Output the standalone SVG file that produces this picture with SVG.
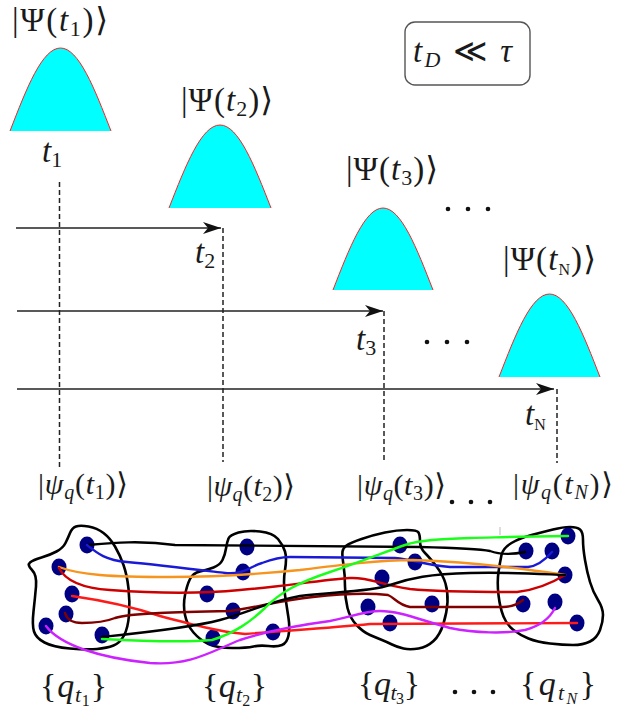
<svg xmlns="http://www.w3.org/2000/svg" width="618" height="715" viewBox="0 0 618 715">
<defs>
<style>
.m{font-family:"Liberation Serif","DejaVu Serif","DejaVu Sans",serif;font-size:33px;fill:#1a1a1a}
.q{font-family:"Liberation Serif","DejaVu Serif","DejaVu Sans",serif;font-size:30px;fill:#1a1a1a}
.s{font-family:"Liberation Serif","DejaVu Serif","DejaVu Sans",serif;font-size:34px;fill:#1a1a1a}
.i{font-style:italic}
.bell{fill:#00ffff;stroke:none}
.bedge{fill:none;stroke:#ff2020;stroke-width:1}
.dash{stroke:#222;stroke-width:1.5;stroke-dasharray:5 3;fill:none}
.arr{stroke:#222;stroke-width:1.7;fill:none;marker-end:url(#ah)}
.blob{fill:none;stroke:#000;stroke-width:2.6;stroke-linejoin:round}
.dot{fill:#000082}
.ln{fill:none;stroke-width:2.4;stroke-linecap:round}
.dd{fill:#111}
</style>
<marker id="ah" markerWidth="20" markerHeight="16" refX="18" refY="8" orient="auto" markerUnits="userSpaceOnUse">
<path d="M0,2 L18,8 L0,14 L5,8 Z" fill="#111"/>
</marker>
</defs>
<rect width="618" height="715" fill="#fff"/>

<g id="state1">
<path class="bell" d="M10,131 C26.5,88.5 42.2,48 60.5,48 C78.8,48 94.5,88.5 111,131 Z"/>
<path class="bedge" d="M10,131 C26.5,88.5 42.2,48 60.5,48 C78.8,48 94.5,88.5 111,131"/>
<text class="m" x="12" y="31" textLength="96" lengthAdjust="spacing">|Ψ(<tspan class="i">t</tspan><tspan dy="5" font-size="22">1</tspan><tspan dy="-5">)⟩</tspan></text>
</g>
<g id="state2">
<path class="bell" d="M169,208 C185.6,165.5 201.5,125 220,125 C238.5,125 254.4,165.5 271,208 Z"/>
<path class="bedge" d="M169,208 C185.6,165.5 201.5,125 220,125 C238.5,125 254.4,165.5 271,208"/>
<text class="m" x="181" y="111" textLength="92" lengthAdjust="spacing">|Ψ(<tspan class="i">t</tspan><tspan dy="5" font-size="22">2</tspan><tspan dy="-5">)⟩</tspan></text>
</g>
<g id="state3">
<path class="bell" d="M333,290 C349.3,248 364.9,208 383,208 C401.1,208 416.7,248 433,290 Z"/>
<path class="bedge" d="M333,290 C349.3,248 364.9,208 383,208 C401.1,208 416.7,248 433,290"/>
<text class="m" x="346" y="180" textLength="92" lengthAdjust="spacing">|Ψ(<tspan class="i">t</tspan><tspan dy="5" font-size="22">3</tspan><tspan dy="-5">)⟩</tspan></text>
</g>
<g id="stateN">
<path class="bell" d="M499,377 C515.5,334.5 531.2,294 549.5,294 C567.8,294 583.5,334.5 600,377 Z"/>
<path class="bedge" d="M499,377 C515.5,334.5 531.2,294 549.5,294 C567.8,294 583.5,334.5 600,377"/>
<text class="m" x="503" y="270" textLength="93" lengthAdjust="spacing">|Ψ(<tspan class="i">t</tspan><tspan dy="5" font-size="16">N</tspan><tspan dy="-5">)⟩</tspan></text>
</g>

<g id="box">
<rect x="405" y="22" width="125" height="63" rx="10" fill="none" stroke="#555" stroke-width="1.4"/>
<text class="m" x="413" y="62" textLength="99" lengthAdjust="spacing"><tspan class="i">t</tspan><tspan class="i" dy="5" font-size="22">D</tspan><tspan dy="-5"> ≪ </tspan><tspan class="i">τ</tspan></text>
</g>

<g id="time-labels">
<text class="m" x="42" y="162"><tspan class="i">t</tspan><tspan dy="5" font-size="22">1</tspan></text>
<text class="m" x="195" y="263"><tspan class="i">t</tspan><tspan dy="5" font-size="22">2</tspan></text>
<text class="m" x="356" y="350"><tspan class="i">t</tspan><tspan dy="5" font-size="22">3</tspan></text>
<text class="m" x="525" y="425"><tspan class="i">t</tspan><tspan dy="5" font-size="16">N</tspan></text>
</g>

<g id="ellipses">
<circle class="dd" cx="448" cy="209" r="2.3"/><circle class="dd" cx="468" cy="209" r="2.3"/><circle class="dd" cx="488" cy="209" r="2.3"/>
<circle class="dd" cx="427" cy="342" r="2.3"/><circle class="dd" cx="447" cy="342" r="2.3"/><circle class="dd" cx="467" cy="342" r="2.3"/>
<circle class="dd" cx="452" cy="502" r="2.3"/><circle class="dd" cx="471" cy="502" r="2.3"/><circle class="dd" cx="490" cy="502" r="2.3"/>
<circle class="dd" cx="455" cy="692" r="2.3"/><circle class="dd" cx="474" cy="692" r="2.3"/><circle class="dd" cx="493" cy="692" r="2.3"/>
</g>

<g id="psi-labels">
<text class="q" x="38" y="494" textLength="90" lengthAdjust="spacing">|<tspan class="i">ψ</tspan><tspan class="i" dy="5" font-size="20">q</tspan><tspan dy="-5">(</tspan><tspan class="i">t</tspan><tspan dy="5" font-size="20">1</tspan><tspan dy="-5">)⟩</tspan></text>
<text class="q" x="207" y="496" textLength="88" lengthAdjust="spacing">|<tspan class="i">ψ</tspan><tspan class="i" dy="5" font-size="20">q</tspan><tspan dy="-5">(</tspan><tspan class="i">t</tspan><tspan dy="5" font-size="20">2</tspan><tspan dy="-5">)⟩</tspan></text>
<text class="q" x="357" y="495" textLength="89" lengthAdjust="spacing">|<tspan class="i">ψ</tspan><tspan class="i" dy="5" font-size="20">q</tspan><tspan dy="-5">(</tspan><tspan class="i">t</tspan><tspan dy="5" font-size="20">3</tspan><tspan dy="-5">)⟩</tspan></text>
<text class="q" x="513" y="494" textLength="100" lengthAdjust="spacing">|<tspan class="i">ψ</tspan><tspan class="i" dy="5" font-size="20">q</tspan><tspan dy="-5">(</tspan><tspan class="i">t</tspan><tspan class="i" dy="5" font-size="20">N</tspan><tspan dy="-5">)⟩</tspan></text>
</g>

<g id="set-labels">
<text class="s" x="40" y="697" textLength="67" lengthAdjust="spacing">{<tspan class="i">q</tspan><tspan class="i" dy="5" font-size="22">t</tspan><tspan dy="4" font-size="16">1</tspan><tspan dy="-9">}</tspan></text>
<text class="s" x="202" y="697" textLength="65" lengthAdjust="spacing">{<tspan class="i">q</tspan><tspan class="i" dy="5" font-size="22">t</tspan><tspan dy="4" font-size="16">2</tspan><tspan dy="-9">}</tspan></text>
<text class="s" x="358" y="695" textLength="62" lengthAdjust="spacing">{<tspan class="i">q</tspan><tspan class="i" dy="5" font-size="22">t</tspan><tspan dy="4" font-size="16">3</tspan><tspan dy="-9">}</tspan></text>
<text class="s" x="520" y="695" textLength="76" lengthAdjust="spacing">{<tspan class="i">q</tspan><tspan class="i" dy="5" font-size="22">t</tspan><tspan class="i" dy="4" font-size="16">N</tspan><tspan dy="-9">}</tspan></text>
</g>

<g id="cluster1">
<path class="blob" d="M30,562.5 Q27,565 32,570 Q37,575 36,586.5 Q35,598 33.5,611.5 Q32,625 34,631.5 Q36,638 44.5,642.5 Q53,647 70,648.5 Q87,650 97,649 Q107,648 113.5,645.5 Q120,643 124,635.5 Q128,628 129,615 Q130,602 128.5,588.5 Q127,575 123.5,565 Q120,555 115,546.5 Q110,538 103.5,533 Q97,528 88.5,526.5 Q80,525 76,526.5 Q72,528 70,533 Q68,538 65.5,543 Q63,548 56.5,551.5 Q50,555 41.5,557.5 Q33,560 30,562.5 Z"/>
<ellipse class="dot" cx="87" cy="545" rx="7.5" ry="8.5"/>
<ellipse class="dot" cx="59" cy="567" rx="7.5" ry="8.5"/>
<ellipse class="dot" cx="72" cy="594" rx="7.5" ry="8.5"/>
<ellipse class="dot" cx="66" cy="614" rx="7.5" ry="8.5"/>
<ellipse class="dot" cx="46" cy="626" rx="7.5" ry="8.5"/>
<ellipse class="dot" cx="102" cy="635" rx="7.5" ry="8.5"/>
</g>
<g id="cluster2">
<path class="blob" d="M228.5,538.5 Q230,535 238.5,532.5 Q247,530 260,531.5 Q273,533 278,539 Q283,545 285,551.5 Q287,558 285,570 Q283,582 285,595 Q287,608 288.5,618 Q290,628 288.5,635.5 Q287,643 282,645 Q277,647 268.5,646 Q260,645 253.5,646.5 Q247,648 232,648 Q217,648 208.5,644 Q200,640 193.5,632.5 Q187,625 185,615 Q183,605 185,595 Q187,585 190,579 Q193,573 200,571.5 Q207,570 213.5,567.5 Q220,565 222.5,560 Q225,555 226,548.5 Q227,542 228.5,538.5 Z"/>
<ellipse class="dot" cx="247" cy="547" rx="7.5" ry="8.5"/>
<ellipse class="dot" cx="243" cy="572" rx="7.5" ry="8.5"/>
<ellipse class="dot" cx="207" cy="594" rx="7.5" ry="8.5"/>
<ellipse class="dot" cx="233" cy="611" rx="7.5" ry="8.5"/>
<ellipse class="dot" cx="213" cy="638" rx="7.5" ry="8.5"/>
<ellipse class="dot" cx="273" cy="632" rx="7.5" ry="8.5"/>
</g>
<g id="cluster3">
<path class="blob" d="M342.5,551.5 Q343,548 346.5,545.5 Q350,543 361.5,539 Q373,535 385,532.5 Q397,530 407,530 Q417,530 418.5,532.5 Q420,535 420,541.5 Q420,548 425,553 Q430,558 436.5,566.5 Q443,575 445.5,583.5 Q448,592 447.5,602 Q447,612 443.5,623.5 Q440,635 433.5,641 Q427,647 418.5,648.5 Q410,650 403.5,648.5 Q397,647 392,644.5 Q387,642 382,640 Q377,638 370,635 Q363,632 356.5,625 Q350,618 347.5,608 Q345,598 345,586.5 Q345,575 343.5,565 Q342,555 342.5,551.5 Z"/>
<ellipse class="dot" cx="400" cy="545" rx="7.5" ry="8.5"/>
<ellipse class="dot" cx="415" cy="562" rx="7.5" ry="8.5"/>
<ellipse class="dot" cx="382" cy="578" rx="7.5" ry="8.5"/>
<ellipse class="dot" cx="368" cy="607" rx="7.5" ry="8.5"/>
<ellipse class="dot" cx="432" cy="604" rx="7.5" ry="8.5"/>
<ellipse class="dot" cx="390" cy="623" rx="7.5" ry="8.5"/>
</g>
<g id="clusterN">
<path class="blob" d="M498.5,595 Q497,582 498.5,572 Q500,562 501.5,555 Q503,548 511.5,543 Q520,538 531.5,535 Q543,532 553,529.5 Q563,527 570,527 Q577,527 580,529.5 Q583,532 583,540 Q583,548 585,560 Q587,572 590,582 Q593,592 598,600 Q603,608 603,615 Q603,622 600,630 Q597,638 590,641.5 Q583,645 573,645 Q563,645 550,643.5 Q537,642 528.5,638.5 Q520,635 513.5,630 Q507,625 503.5,616.5 Q500,608 498.5,595 Z"/>
<ellipse class="dot" cx="568" cy="536" rx="7.5" ry="8.5"/>
<ellipse class="dot" cx="526" cy="551" rx="7.5" ry="8.5"/>
<ellipse class="dot" cx="552" cy="551" rx="7.5" ry="8.5"/>
<ellipse class="dot" cx="565" cy="575" rx="7.5" ry="8.5"/>
<ellipse class="dot" cx="523" cy="604" rx="7.5" ry="8.5"/>
<ellipse class="dot" cx="555" cy="602" rx="7.5" ry="8.5"/>
<ellipse class="dot" cx="577" cy="623" rx="7.5" ry="8.5"/>
</g>

<g id="connectors">
<path class="dash" d="M59.5,182 V467"/>
<path class="dash" d="M223,228 V462"/>
<path class="dash" d="M384,311 V462"/>
<path class="dash" d="M557,389 V463"/>
<path class="arr" d="M16,228 H221"/>
<path class="arr" d="M17,311 H383"/>
<path class="arr" d="M17,389 H554"/>
<line x1="500" y1="527" x2="500" y2="535" stroke="#bbb" stroke-width="1"/>

<path class="ln" stroke="#000" d="M87,545 C110,543 140,540 175,545 L420,547 C460,548 480,549 490,551 C498,554 510,555 525,552"/>
<path class="ln" stroke="#1a1ad6" d="M87,545 C97,553 105,560 127,562 C160,565 200,570 225,573 C245,575 250,566 262,563 C270,560 278,557 290,557 L395,558 C415,560 425,565 450,567 L528,567 C538,566 545,560 552,552"/>
<path class="ln" stroke="#f7941d" d="M59,567 C80,575 110,577 170,577 C220,577 260,574 300,570 C340,565 380,560 413,560 C450,561 500,566 530,570 C545,572 555,573 565,575"/>
<path class="ln" stroke="#cc0000" d="M59,568 C65,580 80,588 110,590 C150,593 200,594 240,590 C280,587 320,580 350,578 C370,577 380,585 410,589 C440,592 480,592 517,592 C535,590 552,583 565,575"/>
<path class="ln" stroke="#ff1a1a" d="M72,596 C100,600 130,606 160,616 C190,624 220,632 245,634 C280,631 330,628 370,624 L577,623"/>
<path class="ln" stroke="#800000" d="M65,613 C67,620 72,623 82,623 C95,623 105,622 115,618 C130,613 180,612 230,611 C255,608 280,600 313,597 C340,594 370,593 388,595 C395,598 398,605 410,607 L503,607 C512,607 518,604 523,600"/>
<path class="ln" stroke="#000" d="M102,637 C140,633 190,628 220,620 C250,612 270,601 300,596 C330,592 370,592 390,585 C410,578 430,574 470,573 C510,572 540,574 565,575"/>
<path class="ln" stroke="#1aff1a" d="M102,639 C140,641 190,642 212,640 C235,633 250,622 265,608 C280,592 300,582 330,572 C360,562 385,552 405,545 C420,540 440,539 470,538 C510,537 540,536 568,536"/>
<path class="ln" stroke="#cc22ff" d="M46,626 C60,645 100,658 150,663 C190,666 210,652 240,640 C270,630 300,625 330,621 C350,617 365,611 380,611 C400,611 420,620 450,628 C475,633 505,634 525,630 C540,626 550,618 555,608"/>
</g>
</svg>
